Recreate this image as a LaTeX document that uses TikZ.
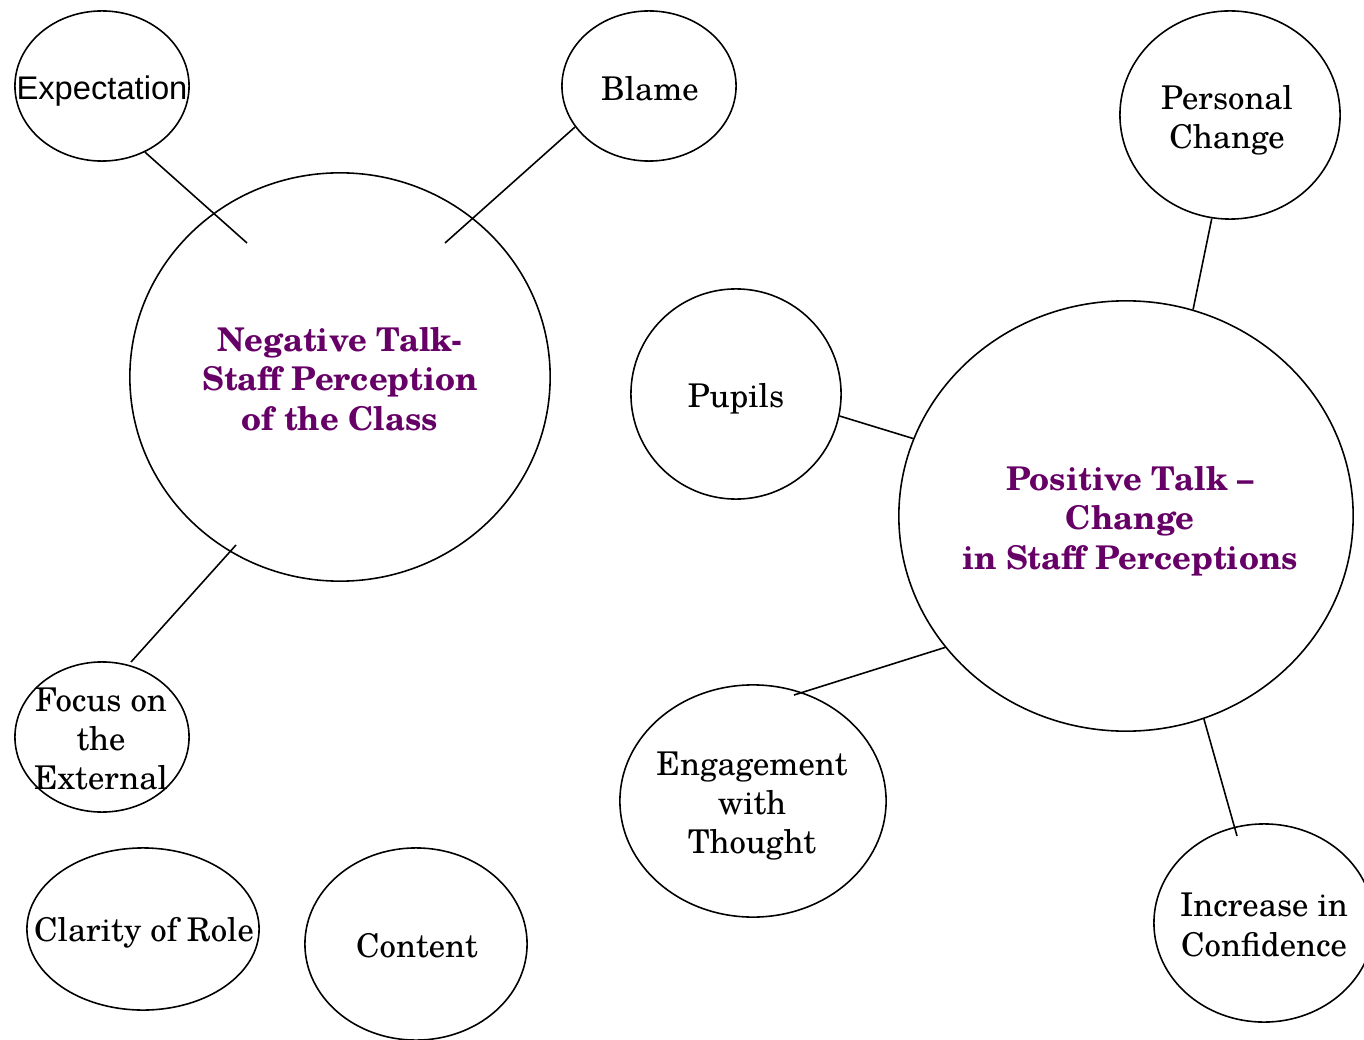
\documentclass[tikz,border=0pt]{standalone}
\usepackage{fontspec}
\setmainfont{texgyreschola}[Extension=.otf, UprightFont=*-regular, BoldFont=*-bold, ItalicFont=*-italic, BoldItalicFont=*-bolditalic]
\newfontfamily\arialfont{Liberation Sans}
\usetikzlibrary{shapes.geometric,calc}
\definecolor{talkpurple}{RGB}{102,0,102}
\begin{document}
\begin{tikzpicture}[x=0.01cm,y=-0.01cm,
  bub/.style 2 args={ellipse, draw=black, line width=0.45pt, inner sep=0pt,
     minimum width=#1*0.02cm, minimum height=#2*0.02cm},
  lbl/.style={align=center, inner sep=0pt, font=\fontsize{9.3}{11.2}\selectfont},
  hub/.style={lbl, text=talkpurple, font=\fontsize{9.3}{11.2}\selectfont\bfseries},
  link/.style={draw=black, line width=0.45pt}]
\useasboundingbox (0,0) rectangle (1364,1040);
\clip (0,0) rectangle (1364,1040);
% bubbles
\node[bub={87}{75}]   (expect) at (102,86) {};
\node[bub={87}{75}]   (blame)  at (649,86) {};
\node[bub={210}{204}] (neg)    at (340,377) {};
\node[bub={110}{104}] (pers)   at (1230,115) {};
\node[bub={105}{105}] (pupils) at (736,394) {};
\node[bub={227}{215}] (pos)    at (1126,516) {};
\node[bub={87}{75}]   (focus)  at (102,737) {};
\node[bub={133}{116}] (engage) at (753,801) {};
\node[bub={116}{81}]  (clarity) at (143,929) {};
\node[bub={111}{96}]  (content) at (416,944) {};
\node[bub={110}{99}]  (incr)   at (1264,923) {};
% texts
\node[lbl, font=\fontsize{9.3}{11.2}\arialfont] (expectT) at (102,91) {Expectation};
\node[lbl] (blameT) at (650,89) {Blame};
\node[hub] (negT) at (340,379) {Negative Talk-\\Staff Perception\\of the Class};
\node[lbl] (persT) at (1227,120) {Personal\\Change};
\node[lbl] (pupilsT) at (736,399) {Pupils};
\node[hub] (posT) at (1130,521) {Positive Talk --\\Change\\in Staff Perceptions};
\node[lbl] (focusT) at (101,739) {Focus on\\the\\External};
\node[lbl] (clarityT) at (144,933) {Clarity of Role};
\node[lbl] (contentT) at (417,946) {Content};
\node[lbl] (engageT) at (752,806) {Engagement\\with\\Thought};
\node[lbl] (incrT) at (1264,925) {Increase in\\Confidence};
% inner ends of connectors
\coordinate (negA) at ($(neg.center)+(-93,-134)$);
\coordinate (negB) at ($(neg.center)+(105,-134)$);
\coordinate (negC) at ($(neg.center)+(-104,168)$);
\coordinate (focusA) at ($(focus.center)+(29,-75)$);
\coordinate (engageA) at ($(engage.center)+(41,-106)$);
\coordinate (incrA) at ($(incr.center)+(-27,-87)$);
% connectors
\draw[link] (expect.-57) -- (negA);
\draw[link] (blame.209) -- (negB);
\draw[link] (negC) -- (focusA);
\draw[link] (pers.260.7) -- (pos.72.5);
\draw[link] (pupils.-12.5) -- (pos.160.4);
\draw[link] (pos.216.8) -- (engageA);
\draw[link] (pos.-69.4) -- (incrA);
\end{tikzpicture}
\end{document}
